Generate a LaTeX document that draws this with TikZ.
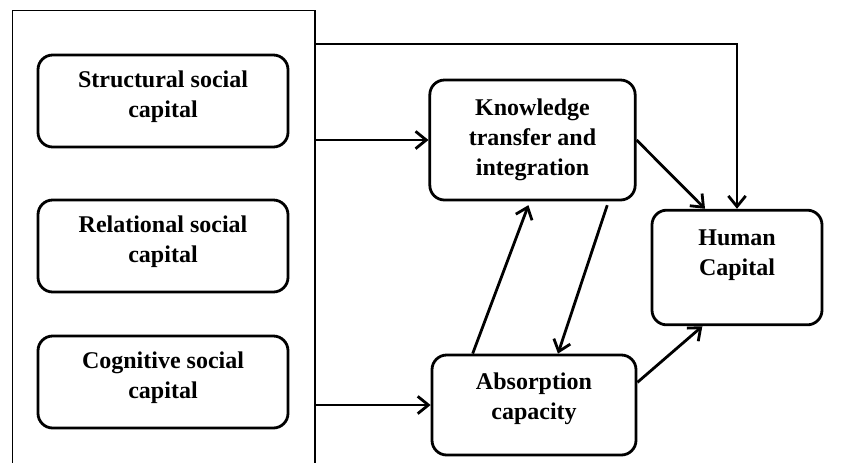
\documentclass[tikz,border=0pt]{standalone}
\usepackage{fontspec}
\setmainfont{Liberation Serif}
\usetikzlibrary{arrows.meta}
\tikzset{
  box/.style={draw, line width=2.1pt, rounded corners=11pt, align=center,
    font=\fontsize{18}{22.5}\selectfont\bfseries},
  group/.style={draw, line width=1pt, minimum width=227pt, minimum height=352pt},
  link/.style={line width=2.1pt, -{Straight Barb[length=8pt,width=13pt]}},
}

\begin{document}
\begin{tikzpicture}[x=0.75pt, y=-0.75pt]
  \clip (0,0) rectangle (846,462);
  \fill[white] (0,0) rectangle (846,462);

  \node [group] (grp) at (163.5,245) {};

  \node [box, minimum width=187.5pt, minimum height=69pt, text depth=10pt] (ssc) at (163,101) {Structural social\\capital};
  \node [box, minimum width=187.5pt, minimum height=69pt, text depth=10pt] (rsc) at (163,246) {Relational social\\capital};
  \node [box, minimum width=187.5pt, minimum height=69pt, text depth=10pt] (csc) at (163,382) {Cognitive social\\capital};

  \node [box, minimum width=154pt, minimum height=90pt] (kti) at (532.5,140) {Knowledge\\transfer and\\integration};
  \node [box, minimum width=153pt, minimum height=75pt, text depth=14pt] (abs) at (534,405) {Absorption\\capacity};
  \node [box, minimum width=127.5pt, minimum height=86pt, text depth=23pt] (hc) at (737,267.5) {Human\\Capital};

  \coordinate (bend) at (737,44);

  \draw [link] (grp.east |- bend) -| (hc.north);
  \draw [link] (grp.east |- kti.west) -- (kti.west);
  \draw [link] (grp.east |- abs.west) -- (abs.west);
  \draw [link] (kti.east) -- ([xshift=-24pt]hc.north);
  \draw [link] ([yshift=17pt]abs.east) -- ([xshift=-26pt]hc.south);
  \draw [link, shorten >=3pt] ([xshift=-46pt]abs.north) -- ([xshift=-2pt]kti.south);
  \draw [link, shorten <=3pt] ([xshift=57pt]kti.south) -- ([xshift=18pt]abs.north);

\end{tikzpicture}
\end{document}
